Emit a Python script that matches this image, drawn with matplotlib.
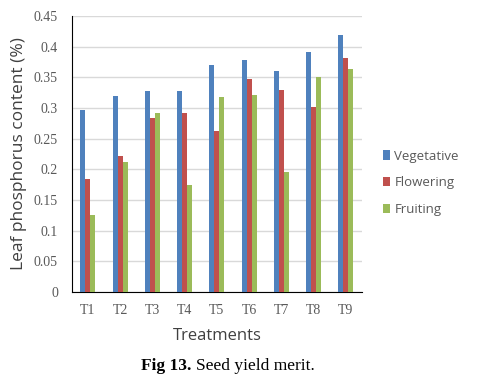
import numpy as np
import matplotlib
matplotlib.use('Agg')
import matplotlib.pyplot as plt

treatments = ['T1', 'T2', 'T3', 'T4', 'T5', 'T6', 'T7', 'T8', 'T9']
vegetative = [0.297, 0.320, 0.327, 0.327, 0.370, 0.378, 0.360, 0.392, 0.420]
flowering = [0.184, 0.221, 0.284, 0.292, 0.262, 0.348, 0.329, 0.302, 0.381]
fruiting = [0.126, 0.212, 0.292, 0.174, 0.318, 0.321, 0.195, 0.351, 0.363]
yticks = [0, 0.05, 0.1, 0.15, 0.2, 0.25, 0.3, 0.35, 0.4, 0.45]
ytick_labels = ['0', '0.05', '0.1', '0.15', '0.2', '0.25', '0.3', '0.35', '0.4', '0.45']

fig = plt.figure(figsize=(4.82, 3.84), dpi=100)
ax = fig.add_axes([0.149, 0.240, 0.602, 0.718])

x = np.arange(len(treatments))
w = 0.155
ax.bar(x - w, vegetative, w, color='#4F81BD', label='Vegetative', zorder=3)
ax.bar(x, flowering, w, color='#C0504D', label='Flowering', zorder=3)
ax.bar(x + w, fruiting, w, color='#9BBB59', label='Fruiting', zorder=3)

ax.set_xlim(-0.5, len(treatments) - 0.5)
ax.set_ylim(0, 0.45)
ax.set_yticks(yticks)
ax.set_yticklabels(ytick_labels, family='Liberation Serif', fontsize=10, color='#595959')
ax.set_xticks(x)
ax.set_xticklabels(treatments, family='Liberation Serif', fontsize=10, color='#595959')
ax.tick_params(axis='y', length=0, pad=10)
ax.tick_params(axis='x', length=0, pad=9)
ax.grid(axis='y', color='#D9D9D9', linewidth=1, zorder=0)
for s in ['top', 'right']:
    ax.spines[s].set_visible(False)
ax.spines['left'].set_color('black')
ax.spines['bottom'].set_color('black')

ax.set_ylabel('Leaf phosphorus content (%)', family='Open Sans', fontsize=12.5, color='#404040', labelpad=5)
ax.set_xlabel('Treatments', family='Open Sans', fontsize=12, color='#404040', labelpad=8)

leg = ax.legend(loc='center left', bbox_to_anchor=(1.03, 0.395), frameon=False,
                handlelength=0.6, handleheight=0.7, handletextpad=0.3, labelspacing=1.05,
                prop={'family': 'Open Sans', 'size': 9.5})
for t in leg.get_texts():
    t.set_color('#595959')

# caption below the chart
fig.text(0.398, 0.048, 'Fig 13.', ha='right', va='center', fontsize=12.5,
         family='Liberation Serif', fontweight='bold')
fig.text(0.406, 0.048, 'Seed yield merit.', ha='left', va='center', fontsize=12.5,
         family='Liberation Serif')

fig.savefig('out.png', dpi=100)
